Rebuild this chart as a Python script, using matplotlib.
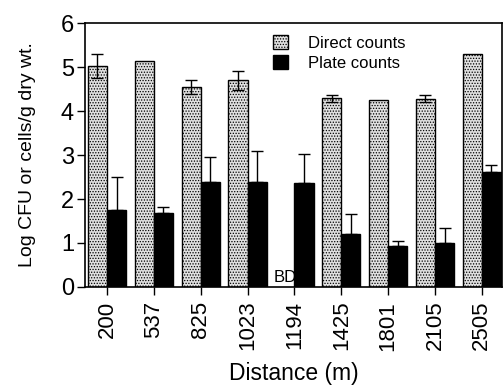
import matplotlib
matplotlib.use("Agg")
import matplotlib.pyplot as plt
import numpy as np

plt.rcParams['font.family'] = ['Liberation Sans', 'DejaVu Sans']
plt.rcParams['hatch.linewidth'] = 0.6

distances = ['200', '537', '825', '1023', '1194', '1425', '1801', '2105', '2505']
direct = [5.02, 5.15, 4.54, 4.70, 0.0, 4.29, 4.25, 4.28, 5.30]
direct_err = [0.27, 0.0, 0.16, 0.21, 0.0, 0.08, 0.0, 0.08, 0.0]
plate = [1.76, 1.69, 2.39, 2.38, 2.37, 1.21, 0.92, 1.01, 2.62]
plate_err = [0.74, 0.13, 0.57, 0.72, 0.65, 0.46, 0.13, 0.33, 0.15]

fig = plt.figure(figsize=(5.03, 3.92), dpi=100)
ax = fig.add_axes([0.169, 0.268, 0.829, 0.673])

x = np.arange(len(distances))
w = 0.41
dc = [(v if v > 0 else np.nan) for v in direct]
b1 = ax.bar(x - w/2, dc, w, facecolor='#e0e0e0', edgecolor='black', hatch='......',
            linewidth=1.0, label='Direct counts')
b2 = ax.bar(x + w/2, plate, w, facecolor='black', edgecolor='black', linewidth=1.0,
            label='Plate counts')
for i in range(len(x)):
    if direct_err[i] > 0:
        ax.errorbar(x[i] - w/2, direct[i], yerr=direct_err[i], fmt='none',
                    ecolor='black', elinewidth=1.0, capsize=4, capthick=1.0)
    ax.errorbar(x[i] + w/2, plate[i], yerr=[[0], [plate_err[i]]], fmt='none',
                ecolor='black', elinewidth=1.0, capsize=4, capthick=1.0)

ax.text(4 - w/2, 0.05, 'BD', ha='center', va='bottom', fontsize=12)

ax.set_xlim(-0.47, 8.43)
ax.set_ylim(0, 6)
ax.set_yticks(range(7))
ax.set_xticks(x)
ax.set_xticklabels(distances, rotation=90, fontsize=16)
ax.tick_params(axis='y', labelsize=17, direction='out', length=6, width=1, pad=2)
ax.tick_params(axis='x', direction='out', length=6, width=1, pad=4)
for s in ax.spines.values():
    s.set_linewidth(1.2)

ax.set_ylabel('Log CFU or cells/g dry wt.', fontsize=14, labelpad=18)
ax.set_xlabel('Distance (m)', fontsize=16.5, labelpad=8)

leg = ax.legend(loc='upper left', bbox_to_anchor=(0.415, 1.01), frameon=False,
                fontsize=12, handlelength=0.9, handleheight=0.9, handletextpad=1.2,
                labelspacing=0.25)

fig.savefig('out.png', dpi=100)
